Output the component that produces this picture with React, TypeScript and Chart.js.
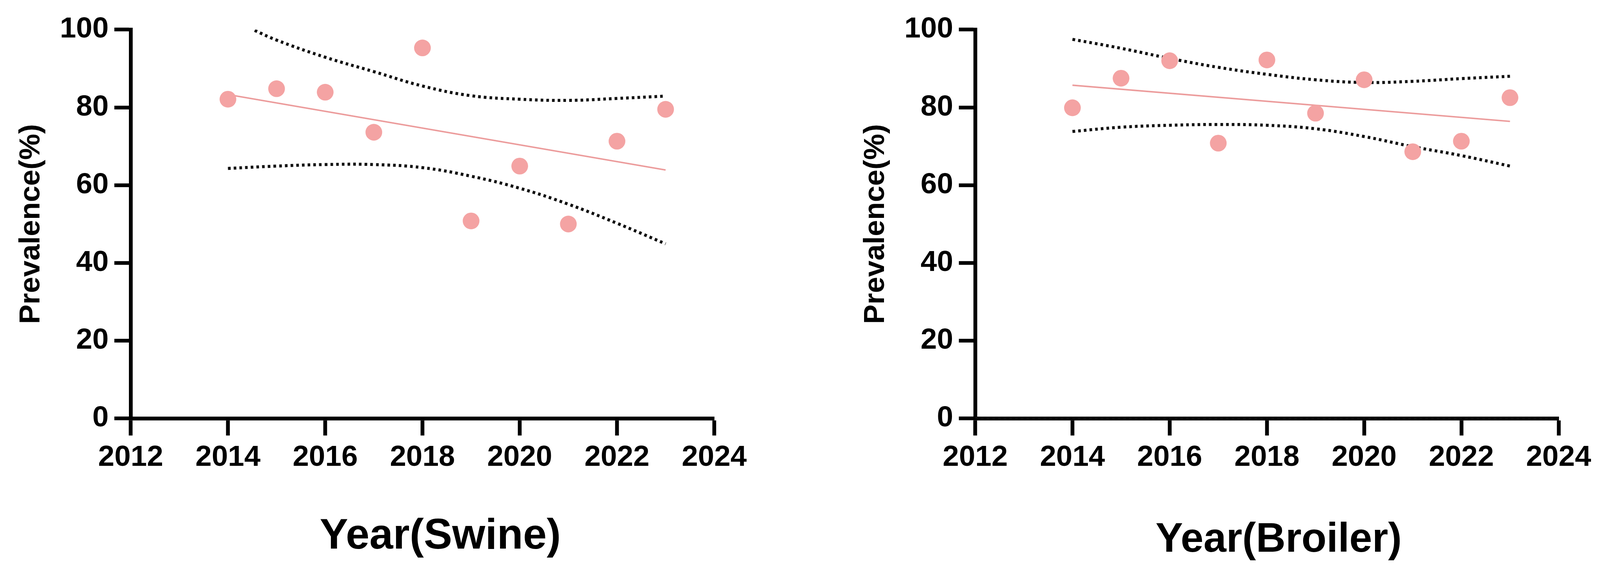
import { useEffect, useRef } from "react";
import Chart from "chart.js/auto";

// values
const YEARS = [2014, 2015, 2016, 2017, 2018, 2019, 2020, 2021, 2022, 2023];
const SWINE = [82.1, 84.8, 83.9, 73.6, 95.3, 50.8, 64.9, 50.0, 71.3, 79.5];
const BROILER = [79.9, 87.5, 92.0, 70.8, 92.2, 78.5, 87.1, 68.6, 71.3, 82.5];

// linear fit, drawn between first and last year
const FIT_YEARS = [2014, 2023];
const SWINE_FIT = [83.3, 63.9];
const BROILER_FIT = [85.7, 76.4];

// 95% confidence band
const SWINE_UPPER_YEARS = [2014.55, 2015, 2016, 2017, 2018, 2019, 2020, 2021, 2022, 2023];
const SWINE_UPPER = [99.8, 97.3, 92.9, 89.2, 85.5, 83.0, 82.1, 81.8, 82.3, 82.9];
const SWINE_LOWER = [64.3, 64.9, 65.3, 65.3, 64.5, 62.3, 59.2, 55.1, 50.2, 44.9];
const BROILER_UPPER = [97.5, 95.2, 92.6, 90.3, 88.5, 87.1, 86.4, 86.7, 87.4, 88.0];
const BROILER_LOWER = [73.8, 74.9, 75.4, 75.6, 75.4, 74.5, 72.5, 69.9, 67.6, 64.9];

// broiler panel has a dotted line lying on the x axis
const ZERO_YEARS = [2012, 2024];
const ZERO_VALUES = [0, 0];

const X_MIN = 2012;
const X_MAX = 2024;
const Y_MIN = 0;
const Y_MAX = 100;

const FONT = '"Liberation Sans", Arial, Helvetica, sans-serif';
const DOT_COLOR = "#F4A3A3";
const FIT_COLOR = "#EC9C9C";

// layout is measured on a 4212 wide picture; scale to the real viewport
const S = typeof window !== "undefined" && window.innerWidth ? window.innerWidth / 4212 : 1;
const px = (n: number) => n * S;

const toPoints = (xs: number[], ys: number[]) => xs.map((x, i) => ({ x, y: ys[i] }));

// axis title under the x axis, shifted a little right like the original
const bottomTitle = {
  id: "bottomTitle",
  afterDraw(chart: any, _args: unknown, opts: any) {
    if (!opts || !opts.text) return;
    const { ctx, chartArea } = chart;
    ctx.save();
    ctx.font = `bold ${px(opts.size)}px ${FONT}`;
    ctx.fillStyle = "#000";
    ctx.textAlign = "center";
    ctx.textBaseline = "alphabetic";
    ctx.fillText(opts.text, (chartArea.left + chartArea.right) / 2 + px(opts.dx), px(opts.y));
    ctx.restore();
  },
};

interface PanelProps {
  width: number;
  values: number[];
  fit: number[];
  upperYears: number[];
  upper: number[];
  lower: number[];
  title: string;
  titleSize: number;
  titleDx: number;
  titleY: number;
  zeroLine?: boolean;
}

function Panel(props: PanelProps) {
  const chartRef = useRef<HTMLCanvasElement>(null);
  const chartInstanceRef = useRef<Chart | null>(null);

  useEffect(() => {
    if (!chartRef.current) return;
    if (chartInstanceRef.current) chartInstanceRef.current.destroy();

    const dotted = {
      showLine: true,
      borderColor: "#111",
      borderWidth: px(8),
      borderDash: [px(7), px(8)],
      borderCapStyle: "butt",
      pointRadius: 0,
      tension: 0.4,
      fill: false,
    };

    const datasets: any[] = [
      {
        label: "data",
        data: toPoints(YEARS, props.values),
        backgroundColor: DOT_COLOR,
        borderColor: DOT_COLOR,
        pointRadius: px(22),
        pointBorderWidth: 0,
        showLine: false,
      },
      {
        label: "fit",
        data: toPoints(FIT_YEARS, props.fit),
        showLine: true,
        borderColor: FIT_COLOR,
        borderWidth: px(4),
        pointRadius: 0,
      },
      { label: "upper", data: toPoints(props.upperYears, props.upper), ...dotted },
      { label: "lower", data: toPoints(YEARS, props.lower), ...dotted },
    ];
    if (props.zeroLine) {
      datasets.push({ label: "zero", data: toPoints(ZERO_YEARS, ZERO_VALUES), ...dotted, tension: 0 });
    }

    const tickFont = { family: FONT, size: px(77), weight: "bold" };

    chartInstanceRef.current = new Chart(chartRef.current, {
      type: "scatter",
      data: { datasets },
      options: {
        responsive: false,
        animation: false,
        layout: { padding: { top: px(78), left: 0, bottom: 0, right: px(props.width - 1880) } },
        plugins: {
          legend: { display: false },
          tooltip: { enabled: false },
          bottomTitle: {
            text: props.title,
            size: props.titleSize,
            dx: props.titleDx,
            y: props.titleY,
          },
        },
        scales: {
          x: {
            type: "linear",
            min: X_MIN,
            max: X_MAX,
            afterFit: (scale: any) => {
              scale.height = px(386);
            },
            ticks: {
              stepSize: 2,
              color: "#000",
              font: tickFont,
              padding: px(12),
              maxRotation: 0,
              autoSkip: false,
              callback: (v: any) => String(v),
            },
            grid: {
              drawOnChartArea: false,
              drawTicks: true,
              tickLength: px(45),
              tickWidth: px(10),
              tickColor: "#000",
            },
            border: { display: true, width: px(10), color: "#000" },
          },
          y: {
            type: "linear",
            min: Y_MIN,
            max: Y_MAX,
            afterFit: (scale: any) => {
              scale.width = px(344);
            },
            ticks: {
              stepSize: 20,
              color: "#000",
              font: tickFont,
              padding: px(15),
            },
            grid: {
              drawOnChartArea: false,
              drawTicks: true,
              tickLength: px(43),
              tickWidth: px(10),
              tickColor: "#000",
            },
            border: { display: true, width: px(10), color: "#000" },
            title: {
              display: true,
              text: "Prevalence(%)",
              color: "#000",
              font: { family: FONT, size: px(77), weight: "bold" },
              padding: { top: px(36), bottom: 0 },
            },
          },
        },
      } as any,
      plugins: [bottomTitle],
    });

    return () => {
      if (chartInstanceRef.current) {
        chartInstanceRef.current.destroy();
        chartInstanceRef.current = null;
      }
    };
  }, []);

  return (
    <div style={{ width: px(props.width), height: px(1488), flex: "none" }}>
      <canvas
        ref={chartRef}
        width={Math.round(px(props.width))}
        height={Math.round(px(1488))}
        style={{ display: "block" }}
      ></canvas>
    </div>
  );
}

const SWINE_PANEL: PanelProps = {
  width: 2223,
  values: SWINE,
  fit: SWINE_FIT,
  upperYears: SWINE_UPPER_YEARS,
  upper: SWINE_UPPER,
  lower: SWINE_LOWER,
  title: "Year(Swine)",
  titleSize: 112,
  titleDx: 47,
  titleY: 1445,
};

const BROILER_PANEL: PanelProps = {
  width: 1989,
  values: BROILER,
  fit: BROILER_FIT,
  upperYears: YEARS,
  upper: BROILER_UPPER,
  lower: BROILER_LOWER,
  title: "Year(Broiler)",
  titleSize: 108,
  titleDx: 31,
  titleY: 1453,
  zeroLine: true,
};

export default function App() {
  useEffect(() => {
    document.body.style.margin = "0";
    document.body.style.overflow = "hidden";
  }, []);

  return (
    <div style={{ display: "flex", width: px(4212), height: px(1488), background: "#fff" }}>
      <Panel {...SWINE_PANEL} />
      <Panel {...BROILER_PANEL} />
    </div>
  );
}
